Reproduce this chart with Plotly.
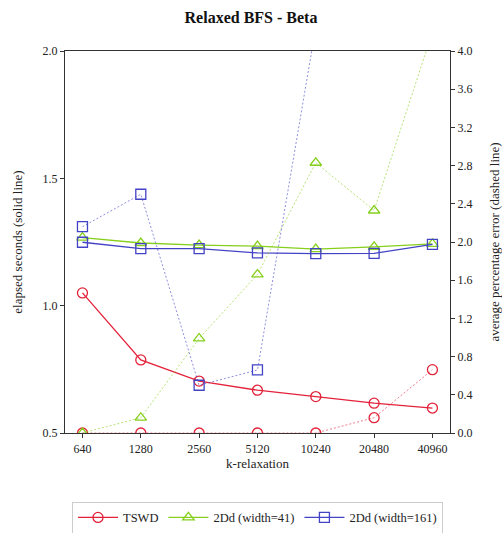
import plotly.graph_objects as go

k_values = [640, 1280, 2560, 5120, 10240, 20480, 40960]
k_labels = ["640", "1280", "2560", "5120", "10240", "20480", "40960"]

tswd_time = [1.05, 0.787, 0.704, 0.668, 0.643, 0.617, 0.598]
w41_time = [1.267, 1.246, 1.238, 1.234, 1.222, 1.231, 1.243]
w161_time = [1.249, 1.224, 1.224, 1.207, 1.204, 1.205, 1.241]

tswd_err = [0.0, 0.0, 0.0, 0.0, 0.0, 0.16, 0.663]
w41_err = [0.0, 0.16, 0.99, 1.66, 2.83, 2.33, 4.2]
w161_err = [2.16, 2.50, 0.50, 0.66, 4.25, 5.0, 6.0]

names = ["TSWD", "2Dd (width=41)", "2Dd (width=161)"]
colors = ["#e3223a", "#86cf1c", "#4343c6"]
dash_colors = ["rgba(227,34,58,0.75)", "rgba(134,207,28,0.75)", "rgba(67,67,198,0.75)"]
symbols = ["circle-open", "triangle-up-open", "square-open"]
times = [tswd_time, w41_time, w161_time]
errs = [tswd_err, w41_err, w161_err]

FONT = "Liberation Serif"

fig = go.Figure()
for name, c, s, t in zip(names, colors, symbols, times):
    fig.add_trace(go.Scatter(
        x=k_values, y=t, name=name, mode="lines+markers",
        line=dict(color=c, width=1.3),
        marker=dict(symbol=s, size=10, color=c, line=dict(width=1.3, color=c)),
        yaxis="y",
    ))
for name, c, dc, s, e in zip(names, colors, dash_colors, symbols, errs):
    fig.add_trace(go.Scatter(
        x=k_values, y=e, name=name, mode="lines+markers", showlegend=False,
        line=dict(color=dc, width=0.8, dash="2px,2px"),
        marker=dict(symbol=s, size=10, color=c, line=dict(width=1.3, color=c)),
        yaxis="y2",
    ))

fig.update_layout(
    width=502, height=533,
    margin=dict(l=65, r=52, t=51, b=100, autoexpand=False),
    paper_bgcolor="white", plot_bgcolor="white",
    font=dict(family=FONT, size=12, color="#222"),
    title=dict(text="<b>Relaxed BFS - Beta</b>", x=0.5, xanchor="center",
               y=0.977, yanchor="top", font=dict(size=16, family=FONT, color="#111")),
    xaxis=dict(
        type="log", range=[2.716, 4.703],
        tickvals=k_values, ticktext=k_labels,
        ticks="outside", ticklen=4, tickcolor="#333",
        showline=True, linecolor="#333", linewidth=1.2, mirror=True,
        showgrid=False, zeroline=False, automargin=False,
        title=dict(text="k-relaxation", standoff=4, font=dict(size=13)),
    ),
    yaxis=dict(
        range=[0.5, 2.0], tickvals=[0.5, 1.0, 1.5, 2.0], ticktext=["0.5", "1.0", "1.5", "2.0"],
        ticks="outside", ticklen=4, tickcolor="#333",
        showline=True, linecolor="#333", linewidth=1.2,
        showgrid=False, zeroline=False, automargin=False,
        title=dict(text="elapsed seconds (solid line)", standoff=16, font=dict(size=13)),
    ),
    yaxis2=dict(
        overlaying="y", side="right", range=[0, 4.0], dtick=0.4, tick0=0, tickformat=".1f",
        ticks="outside", ticklen=4, tickcolor="#333",
        showline=True, linecolor="#333", linewidth=1.2,
        showgrid=False, zeroline=False, automargin=False,
        title=dict(text="average percentage error (dashed line)", standoff=28, font=dict(size=13)),
    ),
    legend=dict(
        orientation="h", x=0.5, xanchor="center", y=-0.18, yanchor="top",
        bordercolor="#cccccc", borderwidth=1, font=dict(size=12.5),
        itemwidth=40, tracegroupgap=0,
    ),
    showlegend=True,
)

fig.write_html("out.html")
